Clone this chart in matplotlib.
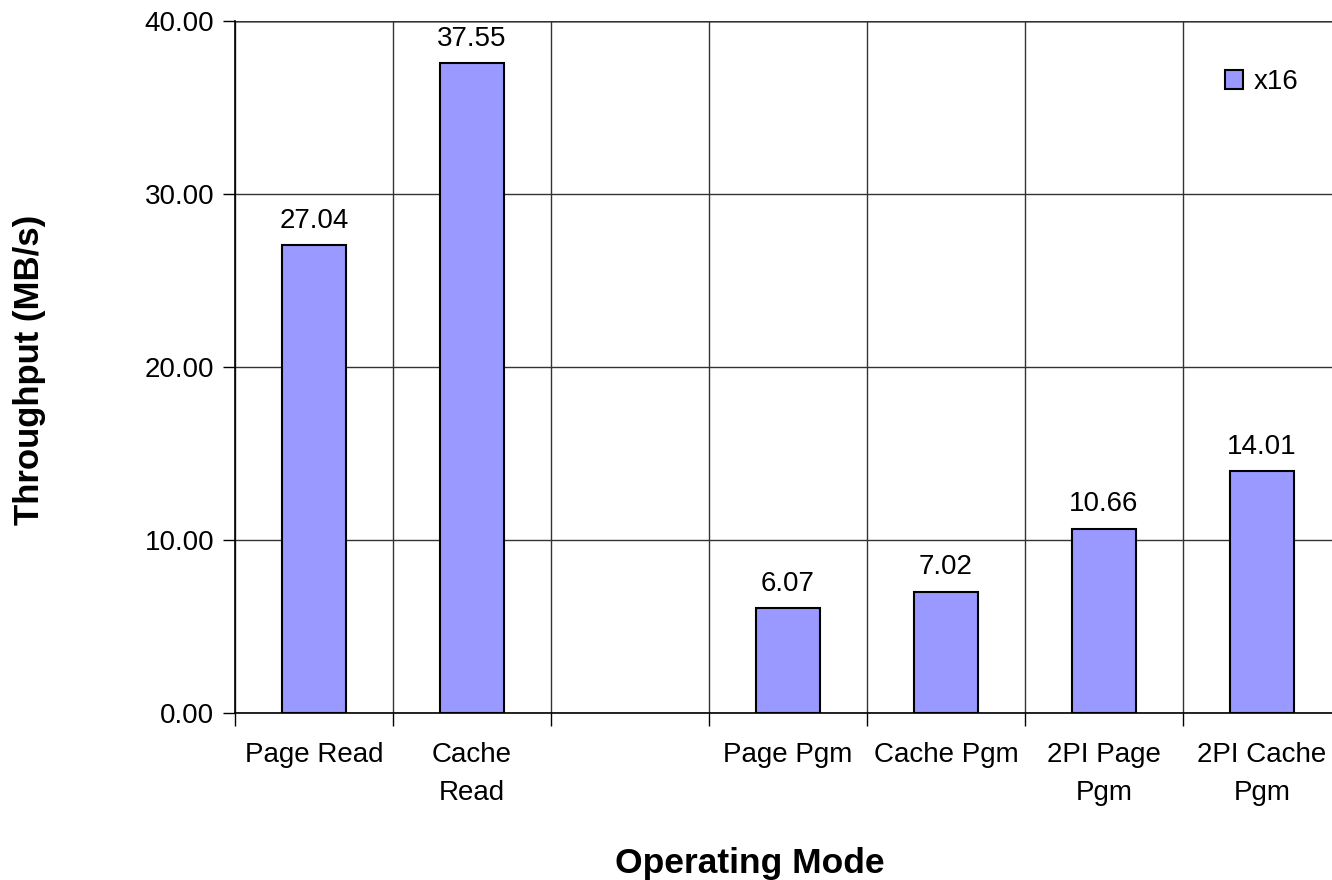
import matplotlib
matplotlib.use('Agg')
import matplotlib.pyplot as plt
import numpy as np

categories = ["Page Read", "Cache\nRead", "", "Page Pgm", "Cache Pgm", "2PI Page\nPgm", "2PI Cache\nPgm"]
throughput = [27.04, 37.55, np.nan, 6.07, 7.02, 10.66, 14.01]
series_name = "x16"
y_ticks = [0, 10, 20, 30, 40]

plt.rcParams['font.family'] = ['Liberation Sans', 'DejaVu Sans']
FS = 20

fig = plt.figure(figsize=(13.32, 8.8), dpi=100)
# axes runs a little past the right edge, as in the original
ax = fig.add_axes([235 / 1332, 167 / 880, 1106 / 1332, 692 / 880])

x = np.arange(len(categories))
ax.bar(x, throughput, width=0.41, color='#9999FF', edgecolor='black',
       linewidth=1.5, label=series_name, zorder=3)

for xi, v in zip(x, throughput):
    if np.isnan(v):
        continue
    ax.annotate(f"{v:.2f}", (xi, v), xytext=(0, 8), textcoords='offset points',
                ha='center', va='bottom', fontsize=FS)

ax.set_xlim(-0.5, len(categories) - 0.5)
ax.set_ylim(0, 40)
ax.set_yticks(y_ticks)
ax.set_yticklabels([f"{t:.2f}" for t in y_ticks], fontsize=FS)

# category labels centred, ticks on the boundaries
ax.set_xticks(x)
ax.set_xticklabels(categories, fontsize=FS, linespacing=1.6)
ax.tick_params(axis='x', which='major', length=0, pad=21)
ax.set_xticks(np.arange(len(categories) + 1) - 0.5, minor=True)
ax.tick_params(axis='x', which='minor', length=9, width=1, color='black')
ax.tick_params(axis='y', length=9, width=1, pad=6)

ax.grid(axis='y', color='#333333', linewidth=1, zorder=0)
ax.grid(axis='x', which='minor', color='#333333', linewidth=1, zorder=0)
for s in ['top', 'right']:
    ax.spines[s].set_visible(False)
ax.spines['left'].set_linewidth(1.2)
ax.spines['bottom'].set_linewidth(1.2)
ax.axhline(40, color='#888888', linewidth=2, zorder=1)

ax.legend(loc='upper left', bbox_to_anchor=(965 / 1106, 1 - 23 / 692),
          bbox_transform=ax.transAxes, frameon=False, fontsize=FS,
          handlelength=0.65, handleheight=0.65, handletextpad=0.4)

fig.text(30 / 1332, 1 - 370 / 880, "Throughput (MB/s)", rotation=90, ha='center',
         va='center', fontsize=25, fontweight='bold')
# x title sits low and is clipped by the bottom edge in the original
fig.text(615 / 1332, 7 / 880, "Operating Mode", ha='left', va='baseline',
         fontsize=25.5, fontweight='bold')

fig.savefig("out.png", dpi=100)
